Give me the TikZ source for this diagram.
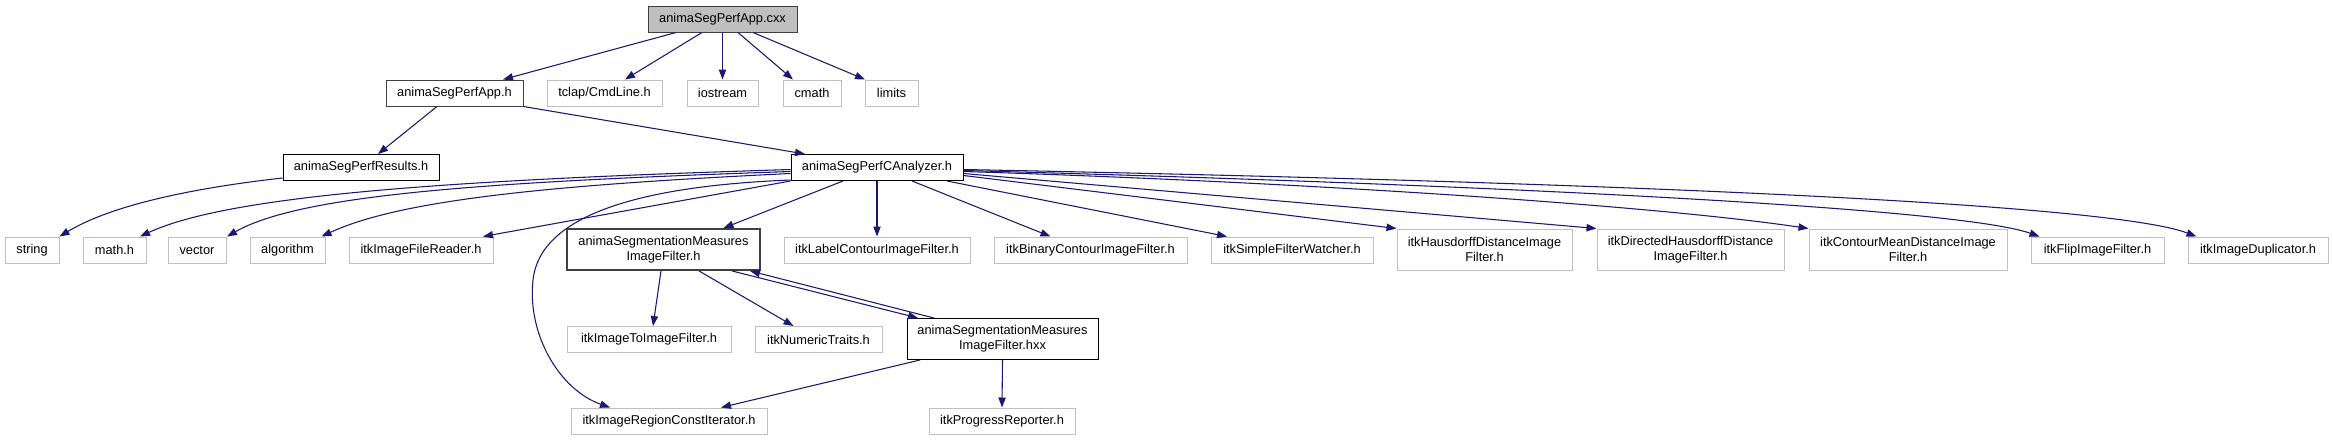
\documentclass[tikz,border=0pt]{standalone}
\usepackage{fontspec}
\setmainfont{Liberation Sans}
\usepackage{tikz}
\usetikzlibrary{arrows.meta,calc}
\definecolor{edgeblue}{HTML}{191970}
\definecolor{sysgray}{HTML}{BFBFBF}
\definecolor{darkframe}{HTML}{404040}

\begin{document}
\begin{tikzpicture}[x=0.75pt,y=-0.75pt,
		font=\fontsize{9.6}{11.5}\selectfont,
		box/.style={draw, fill=white, inner sep=0pt, align=center, minimum height=19.5pt, line width=0.75pt},
		wd/.style={minimum width=#1*0.75pt},
		tall/.style={minimum height=30.75pt},
		ext/.style={box, draw=sysgray},
		own/.style={box, draw=black},
		dep/.style={draw=edgeblue, line width=0.8pt, -{Triangle[length=7.5pt,width=5.5pt]}}]
		\useasboundingbox (0,0) rectangle (2333,440);
		
		% TOP: the source file and its direct includes
		\node[own, wd=149, fill=sysgray, draw=darkframe] (cxx) at (722.5,19) {animaSegPerfApp.cxx};
		\node[own, wd=137, draw=darkframe] (apph) at (454.5,93) {animaSegPerfApp.h};
		\node[ext, wd=115] (tclap) at (604.5,93) {tclap/CmdLine.h};
		\node[ext, wd=71] (iostream) at (722.5,93) {iostream};
		\node[ext, wd=58] (cmath) at (812,93) {cmath};
		\node[ext, wd=53] (limits) at (891.5,93) {limits};
		\node[own, wd=156] (results) at (361,167.5) {animaSegPerfResults.h};
		\node[own, wd=172] (canalyzer) at (877,167.5) {animaSegPerfCAnalyzer.h};
		
		% MIDDLE: headers pulled in by the analyzer
		\node[ext, wd=54] (string) at (32,250) {string};
		\node[ext, wd=63] (mathh) at (114.5,250) {math.h};
		\node[ext, wd=58] (vector) at (197,250) {vector};
		\node[ext, wd=75] (algorithm) at (287.5,250) {algorithm};
		\node[ext, wd=144] (reader) at (421,250) {itkImageFileReader.h};
		\node[own, wd=193, tall, draw=darkframe, line width=1.4pt] (meash) at (663.5,249.5) {animaSegmentationMeasures\\ImageFilter.h};
		\node[ext, wd=186] (label) at (877,250) {itkLabelContourImageFilter.h};
		\node[ext, wd=193] (binary) at (1090.5,250) {itkBinaryContourImageFilter.h};
		\node[ext, wd=162] (watcher) at (1292,250) {itkSimpleFilterWatcher.h};
		\node[ext, wd=175, tall] (hausdorff) at (1484.5,249.5) {itkHausdorffDistanceImage\\Filter.h};
		\node[ext, wd=187, tall] (directed) at (1690.5,249.5) {itkDirectedHausdorffDistance\\ImageFilter.h};
		\node[ext, wd=198, tall] (contour) at (1908,249.5) {itkContourMeanDistanceImage\\Filter.h};
		\node[ext, wd=133] (flip) at (2097.5,250) {itkFlipImageFilter.h};
		\node[ext, wd=140] (dup) at (2258,250) {itkImageDuplicator.h};
		
		% BOTTOM: the measures filter and its implementation
		\node[ext, wd=164] (toimage) at (649,339.5) {itkImageToImageFilter.h};
		\node[ext, wd=127] (numeric) at (818.5,339.5) {itkNumericTraits.h};
		\node[own, wd=191, tall] (measx) at (1002.5,339) {animaSegmentationMeasures\\ImageFilter.hxx};
		\node[ext, wd=196] (region) at (669,421) {itkImageRegionConstIterator.h};
		\node[ext, wd=146] (progress) at (1002,421) {itkProgressReporter.h};
		
		% edges from the .cxx
		\draw[dep] ($(cxx.south)+(-46.5,0)$) -- ($(apph.north)+(48.5,0)$);
		\draw[dep] ($(cxx.south)+(-20.5,0)$) -- ($(tclap.north)+(20.5,0)$);
		\draw[dep] (cxx.south) -- (iostream.north);
		\draw[dep] ($(cxx.south)+(15.5,0)$) -- ($(cmath.north)+(-19,0)$);
		\draw[dep] ($(cxx.south)+(30.5,0)$) -- ($(limits.north)+(-26.5,0)$);
		\draw[dep] ($(apph.south)+(-17.5,0)$) -- ($(results.north)+(17,0)$);
		\draw[dep] (apph.south east) -- ($(canalyzer.north)+(-72,0)$);
		\draw[dep] ($(results.south west)+(0,-3)$) .. controls (220,185) and (120,200) .. (string.north east);
		
		% analyzer, to the left
		\draw[dep] ($(canalyzer.west)+(0,2)$) .. controls (450,180) and (230,195) .. ($(mathh.north)+(25.5,0)$);
		\draw[dep] ($(canalyzer.west)+(0,4)$) .. controls (480,182) and (300,195) .. ($(vector.north)+(30,0)$);
		\draw[dep] ($(canalyzer.west)+(0,6)$) .. controls (550,185) and (400,200) .. ($(algorithm.north)+(34,0)$);
		\draw[dep] (canalyzer.south west) -- ($(reader.north)+(62,0)$);
		\draw[dep] ($(canalyzer.south west)+(0,-1)$) .. controls (640,186) and (540,215) .. (533,280)
			.. controls (527,335) and (560,390) .. ($(region.north)+(-59,0)$);
		\draw[dep] ($(canalyzer.south)+(-34,0)$) -- ($(meash.north)+(60,0)$);
		
		% analyzer, to the right
		\draw[dep] (canalyzer.south) -- (label.north);
		\draw[dep] ($(canalyzer.south)+(35,0)$) -- ($(binary.north)+(-40,0)$);
		\draw[dep] ($(canalyzer.south)+(70,0)$) -- ($(watcher.north)+(-65,0)$);
		\draw[dep] ($(canalyzer.east)+(0,8)$) -- (hausdorff.north west);
		\draw[dep] ($(canalyzer.east)+(0,6)$) -- (directed.north west);
		\draw[dep] ($(canalyzer.east)+(0,4)$) .. controls (1300,182) and (1650,205) .. (contour.north west);
		\draw[dep] ($(canalyzer.east)+(0,3)$) .. controls (1400,182) and (1950,205) .. ($(flip.north west)+(9,0)$);
		\draw[dep] ($(canalyzer.east)+(0,2)$) .. controls (1500,180) and (2100,200) .. ($(dup.north west)+(9,0)$);
		
		% measures filter
		\draw[dep] ($(meash.south)+(-2.5,0)$) -- ($(toimage.north)+(4,0)$);
		\draw[dep] ($(meash.south)+(35.5,0)$) -- ($(numeric.north)+(-25,0)$);
		\draw[dep] ($(meash.south)+(68.5,0)$) -- ($(measx.north)+(-84.5,0)$);
		\draw[dep] ($(measx.north)+(-68.5,0)$) -- ($(meash.south)+(86.5,0)$);
		\draw[dep] ($(measx.south)+(-82.5,0)$) -- ($(region.north)+(52,0)$);
		\draw[dep] (measx.south) -- (progress.north);
	\end{tikzpicture}
\end{document}
